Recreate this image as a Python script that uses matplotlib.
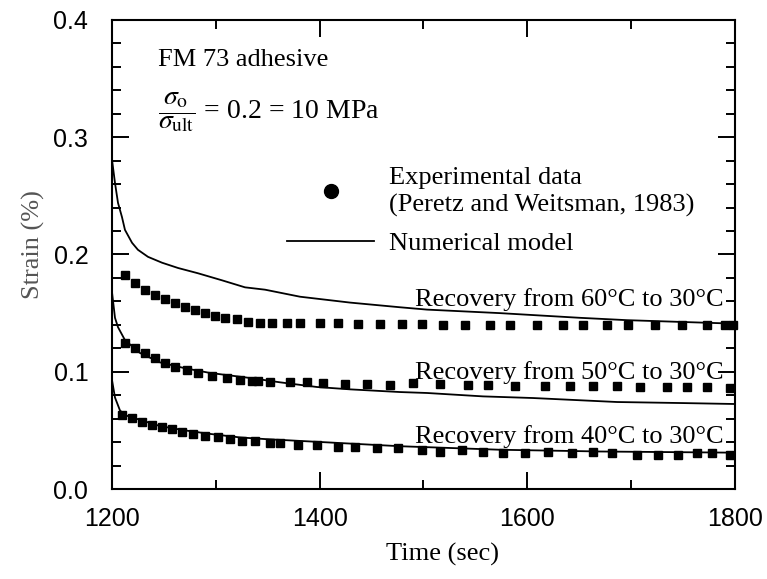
import matplotlib
matplotlib.use("Agg")
import matplotlib.pyplot as plt
from matplotlib.lines import Line2D
from matplotlib.ticker import MultipleLocator

plt.rcParams['mathtext.fontset'] = 'stix'

# valeurs (temps en s, deformation en %)
mod60_t = [1200, 1202.9, 1205.8, 1209.6, 1212.5, 1219.3, 1225.0, 1234.7, 1248.2, 1263.6,
           1282.8, 1305.9, 1328.1, 1347.4, 1381.1, 1429.2, 1477.4, 1503.4, 1573.7, 1650.7,
           1696.0, 1800]
mod60_s = [0.281, 0.261, 0.244, 0.232, 0.221, 0.210, 0.204, 0.198, 0.193, 0.1885,
           0.184, 0.178, 0.172, 0.170, 0.164, 0.159, 0.155, 0.153, 0.150, 0.146,
           0.144, 0.141]

mod50_t = [1200, 1202.9, 1205.8, 1212.5, 1227.0, 1246.2, 1270.3, 1294.4, 1332.9, 1361.8,
           1397.4, 1429.2, 1477.4, 1503.4, 1557.3, 1605.5, 1686.4, 1749.9, 1800]
mod50_s = [0.168, 0.146, 0.138, 0.127, 0.116, 0.108, 0.103, 0.099, 0.0947, 0.091,
           0.087, 0.085, 0.0827, 0.0819, 0.079, 0.0776, 0.0742, 0.0733, 0.0725]

mod40_t = [1200, 1202.9, 1207.7, 1212.5, 1227.0, 1246.2, 1270.3, 1294.4, 1323.3, 1347.4,
           1477.4, 1573.7, 1670.0, 1800]
mod40_s = [0.093, 0.078, 0.067, 0.063, 0.059, 0.0537, 0.050, 0.047, 0.044, 0.0426,
           0.0365, 0.0335, 0.032, 0.031]

exp60_t = [1212.5, 1222.2, 1231.8, 1241.4, 1251.0, 1260.7, 1270.3, 1279.9, 1289.6, 1299.2,
           1308.8, 1320.4, 1331.0, 1342.5, 1354.1, 1368.5, 1381.1, 1400.3, 1417.7, 1436.9,
           1458.1, 1479.3, 1498.6, 1518.8, 1540.0, 1564.1, 1583.3, 1609.3, 1634.4, 1653.6,
           1676.7, 1696.9, 1723.0, 1749.0, 1773.0, 1790.4, 1798.0]
exp60_s = [0.1825, 0.1757, 0.1697, 0.1655, 0.162, 0.1586, 0.155, 0.1527, 0.150, 0.1475,
           0.146, 0.145, 0.1427, 0.1418, 0.1415, 0.1413, 0.1413, 0.1413, 0.1413, 0.141,
           0.141, 0.1405, 0.1405, 0.140, 0.140, 0.140, 0.140, 0.140, 0.140, 0.140,
           0.140, 0.1395, 0.140, 0.140, 0.140, 0.140, 0.140]

exp50_t = [1212.5, 1222.2, 1231.8, 1241.4, 1251.1, 1260.7, 1272.2, 1282.8, 1296.3, 1310.8,
           1323.3, 1334.8, 1340.6, 1352.2, 1371.4, 1387.8, 1403.2, 1424.4, 1445.6, 1467.7,
           1489.9, 1515.9, 1542.9, 1562.1, 1588.1, 1617.0, 1641.1, 1663.3, 1686.4, 1708.5,
           1734.5, 1753.8, 1773.0, 1795.2]
exp50_s = [0.1245, 0.120, 0.116, 0.1117, 0.1075, 0.104, 0.1015, 0.099, 0.0964, 0.0947,
           0.093, 0.092, 0.092, 0.0915, 0.091, 0.091, 0.0905, 0.0895, 0.0895, 0.089,
           0.090, 0.0895, 0.089, 0.089, 0.088, 0.088, 0.088, 0.088, 0.088, 0.087,
           0.087, 0.087, 0.087, 0.086]

exp40_t = [1209.6, 1219.3, 1228.9, 1238.5, 1248.2, 1257.8, 1267.4, 1278.0, 1289.6, 1302.1,
           1313.6, 1325.2, 1337.7, 1352.2, 1361.8, 1379.1, 1397.4, 1417.7, 1434.0, 1455.2,
           1475.4, 1498.6, 1515.9, 1537.1, 1557.3, 1576.6, 1597.8, 1619.9, 1643.0, 1663.3,
           1681.6, 1705.6, 1725.9, 1745.1, 1763.4, 1777.9, 1795.2]
exp40_s = [0.063, 0.0605, 0.057, 0.0546, 0.053, 0.051, 0.0486, 0.047, 0.045, 0.0443,
           0.0426, 0.041, 0.041, 0.039, 0.039, 0.0375, 0.0375, 0.036, 0.036, 0.035,
           0.035, 0.0333, 0.0318, 0.0333, 0.0318, 0.031, 0.031, 0.0318, 0.031, 0.0318,
           0.031, 0.029, 0.029, 0.029, 0.0304, 0.0304, 0.029]

etiquettes = ['Recovery from 60\u00b0C to 30\u00b0C',
              'Recovery from 50\u00b0C to 30\u00b0C',
              'Recovery from 40\u00b0C to 30\u00b0C']
etiq_y = [0.1615, 0.0995, 0.0445]

serif = 'Liberation Serif'
fs = 19

fig = plt.figure(figsize=(7.67, 5.79), dpi=100)
ax = fig.add_axes([0.146, 0.1554, 0.8123, 0.8101])

for t, s in [(mod60_t, mod60_s), (mod50_t, mod50_s), (mod40_t, mod40_s)]:
    ax.plot(t, s, color='k', lw=1.3)
for t, s in [(exp60_t, exp60_s), (exp50_t, exp50_s), (exp40_t, exp40_s)]:
    ax.plot(t, s, ls='none', marker='s', ms=6, color='k', clip_on=False)

ax.set_xlim(1200, 1800)
ax.set_ylim(0.0, 0.4)
ax.xaxis.set_major_locator(MultipleLocator(200))
ax.xaxis.set_minor_locator(MultipleLocator(100))
ax.yaxis.set_major_locator(MultipleLocator(0.1))
ax.yaxis.set_minor_locator(MultipleLocator(0.02))
ax.yaxis.set_major_formatter(matplotlib.ticker.FormatStrFormatter('%.1f'))

ax.tick_params(which='both', direction='in', top=True, right=True, width=1.4)
ax.tick_params(which='major', length=12, labelsize=18)
ax.tick_params(axis='x', which='major', pad=13)
ax.tick_params(axis='y', which='major', pad=17)
ax.tick_params(which='minor', length=6.5)
for lab in ax.get_xticklabels() + ax.get_yticklabels():
    lab.set_family('Liberation Sans')
for sp in ax.spines.values():
    sp.set_linewidth(1.5)

ax.set_xlabel('Time (sec)', family=serif, fontsize=fs)
ax.set_ylabel('Strain (%)', family=serif, fontsize=fs, color='#555555')
ax.xaxis.set_label_coords(0.53, -0.115)
ax.yaxis.set_label_coords(-0.107, 0.522)

ax.text(0.074, 0.915, 'FM 73 adhesive', transform=ax.transAxes, family=serif,
        fontsize=fs, va='center')
ax.text(0.074, 0.803, r'$\dfrac{\sigma_\mathrm{o}}{\sigma_\mathrm{ult}}$ = 0.2 = 10 MPa',
        transform=ax.transAxes, family=serif, fontsize=fs + 1, va='center')

for txt, y in zip(etiquettes, etiq_y):
    ax.text(1492, y, txt, family=serif, fontsize=fs, va='center')

h_exp = Line2D([], [], marker='o', ls='none', color='k', markersize=10)
h_mod = Line2D([], [], color='k', lw=1.3)
leg = ax.legend([h_exp, h_mod],
                ['Experimental data\n(Peretz and Weitsman, 1983)', 'Numerical model'],
                loc='upper left', bbox_to_anchor=(0.281, 0.687), frameon=False,
                handlelength=3.3, handletextpad=0.55, labelspacing=0.55,
                borderpad=0, borderaxespad=0, prop=dict(family=serif, size=fs))
for t in leg.get_texts():
    t.set_linespacing(1.3)

fig.savefig('out.png', dpi=100)
